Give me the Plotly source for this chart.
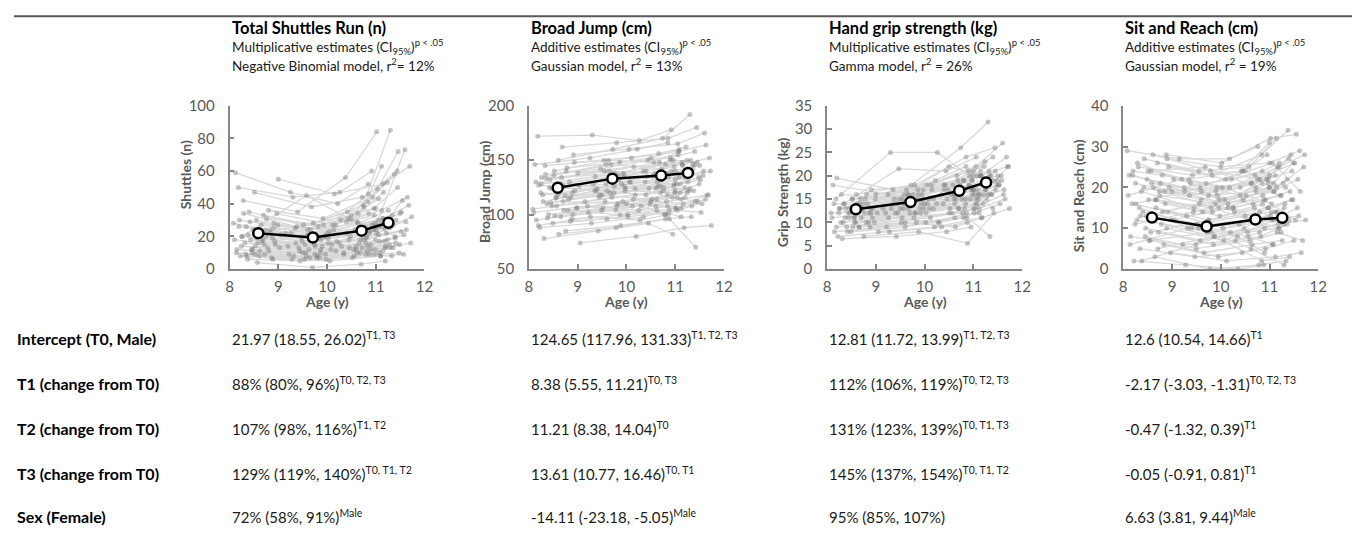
import plotly.graph_objects as go

W, H = 1361, 540
FONT = "Lato"

# ---------------- data ----------------
# age (years) of each child at T0, T1, T2, T3 (same children in every test)
ages = [
    [8.08, 9.15, 10.18, 10.76], [8.12, 9.25, 10.22, 10.85], [8.15, 9.22, 10.30, 10.80],
    [8.18, 9.30, 10.26, 10.92], [8.22, 9.28, 10.35, 10.88], [8.25, 9.36, 10.40, 10.98],
    [8.28, 9.40, 10.38, 11.02], [8.31, 9.42, 10.45, 10.95], [8.34, 9.47, 10.44, 11.06],
    [8.37, 9.45, 10.52, 11.10], [8.40, 9.52, 10.50, 11.04], [8.43, 9.55, 10.58, 11.14],
    [8.46, 9.58, 10.55, 11.18], [8.49, 9.60, 10.62, 11.12], [8.52, 9.63, 10.66, 11.22],
    [8.55, 9.66, 10.64, 11.26], [8.57, 9.70, 10.70, 11.20], [8.60, 9.72, 10.74, 11.30],
    [8.62, 9.75, 10.72, 11.28], [8.65, 9.78, 10.78, 11.34], [8.67, 9.76, 10.80, 11.32],
    [8.70, 9.82, 10.84, 11.38], [8.72, 9.85, 10.82, 11.36], [8.75, 9.88, 10.88, 11.42],
    [8.78, 9.86, 10.90, 11.40], [8.80, 9.92, 10.94, 11.46], [8.83, 9.95, 10.92, 11.50],
    [8.86, 9.98, 10.98, 11.48], [8.88, 10.02, 11.02, 11.55], [8.91, 10.05, 11.05, 11.60],
    [8.94, 10.08, 11.08, 11.58], [8.97, 10.12, 11.12, 11.65], [9.00, 10.15, 11.15, 11.70],
    [9.05, 10.20, 11.18, 11.74], [8.20, 9.35, 10.42, 11.00], [8.45, 9.50, 10.60, 11.24],
    [8.68, 9.80, 10.85, 11.44], [8.90, 10.00, 11.00, 11.62], [8.35, 9.65, 10.68, 11.15],
    [8.58, 9.90, 10.76, 11.52],
    [8.10, 9.20, 10.25, 10.82], [8.14, 9.32, 10.34, 10.90], [8.19, 9.26, 10.28, 10.86],
    [8.24, 9.44, 10.46, 11.00], [8.29, 9.38, 10.40, 10.97], [8.33, 9.54, 10.56, 11.08],
    [8.38, 9.49, 10.48, 11.12], [8.42, 9.60, 10.63, 11.16], [8.47, 9.56, 10.60, 11.20],
    [8.51, 9.68, 10.72, 11.24], [8.56, 9.74, 10.69, 11.28], [8.61, 9.79, 10.80, 11.33],
    [8.66, 9.83, 10.86, 11.36], [8.71, 9.87, 10.84, 11.41], [8.76, 9.93, 10.96, 11.45],
    [8.81, 9.97, 10.99, 11.49], [8.85, 10.03, 11.04, 11.53], [8.89, 10.06, 11.10, 11.57],
    [8.93, 10.10, 11.06, 11.63], [8.99, 10.14, 11.16, 11.68], [9.03, 10.18, 11.20, 11.72],
    [8.26, 9.58, 10.50, 11.08], [8.53, 9.80, 10.62, 11.30], [8.74, 9.96, 11.00, 11.40],
]

shuttles = [
    [28, 22, 27, 38], [59, 47, 40, 52], [12, 9, 14, 16], [50, 44, 47, 60], [8, 6, 10, 9],
    [20, 16, 22, 28], [42, 35, 56, 84], [16, 13, 18, 24], [26, 19, 31, 43], [6, 5, 7, 8],
    [35, 27, 33, 49], [18, 15, 24, 31], [10, 8, 12, 17], [24, 21, 29, 63], [14, 12, 16, 22],
    [30, 24, 28, 36], [4, 1, 3, 5], [22, 28, 39, 85], [11, 9, 13, 15], [27, 21, 26, 33],
    [17, 14, 19, 26], [33, 26, 41, 58], [9, 7, 11, 13], [20, 18, 23, 30], [13, 10, 15, 19],
    [36, 31, 44, 72], [24, 20, 27, 34], [7, 6, 9, 10], [19, 16, 22, 42], [28, 23, 30, 73],
    [15, 12, 17, 21], [34, 27, 36, 44], [55, 46, 52, 63], [21, 17, 25, 32], [30, 25, 35, 37],
    [12, 10, 14, 18], [18, 20, 46, 60], [25, 22, 24, 29], [8, 7, 10, 11], [16, 14, 18, 23],
    [18, 14, 16, 20], [10, 8, 9, 12], [26, 22, 30, 34], [14, 11, 13, 18], [34, 26, 29, 33],
    [9, 6, 8, 10], [21, 17, 20, 28], [29, 24, 34, 47], [12, 10, 12, 14], [47, 38, 44, 53],
    [19, 15, 18, 25], [8, 7, 9, 8], [23, 19, 22, 27], [15, 12, 14, 16], [31, 27, 37, 50],
    [11, 9, 12, 15], [22, 19, 27, 35], [6, 5, 8, 9], [17, 15, 21, 24], [27, 24, 31, 39],
    [13, 11, 13, 16], [20, 45, 30, 26], [9, 8, 10, 13], [24, 20, 26, 20],
]

broad_jump = [
    [105, 112, 118, 122], [146, 152, 160, 166], [95, 102, 108, 100], [172, 173, 168, 178],
    [88, 92, 98, 104], [128, 135, 140, 144], [118, 124, 130, 128], [78, 85, 92, 82],
    [137, 142, 150, 155], [110, 118, 114, 120], [100, 106, 112, 116], [132, 140, 138, 148],
    [124, 128, 135, 138], [92, 96, 104, 98], [140, 150, 156, 162], [115, 120, 126, 130],
    [108, 116, 120, 125], [150, 160, 170, 192], [120, 126, 132, 136], [98, 104, 100, 108],
    [134, 138, 146, 150], [112, 110, 118, 122], [126, 132, 138, 142], [85, 90, 96, 70],
    [143, 148, 152, 158], [104, 112, 116, 112], [130, 136, 140, 145], [116, 124, 128, 134],
    [96, 100, 106, 110], [155, 160, 165, 175], [122, 130, 134, 140], [106, 108, 114, 118],
    [138, 144, 146, 152], [74, 80, 88, 90], [127, 122, 135, 140], [111, 118, 124, 120],
    [162, 166, 170, 180], [100, 110, 106, 114], [133, 140, 148, 145], [118, 128, 125, 132],
    [102, 108, 104, 112], [130, 128, 140, 150], [90, 98, 95, 100], [120, 116, 124, 132],
    [112, 122, 118, 126], [145, 150, 148, 158], [97, 104, 110, 106], [125, 122, 130, 137],
    [108, 112, 108, 116], [136, 146, 142, 150], [116, 120, 126, 122], [82, 88, 96, 98],
    [128, 136, 134, 146], [104, 100, 108, 112], [140, 138, 150, 148], [114, 122, 120, 128],
    [94, 98, 104, 102], [120, 130, 128, 136], [148, 152, 158, 164], [106, 114, 110, 118],
    [126, 124, 134, 140], [134, 146, 152, 160], [99, 108, 114, 124], [117, 126, 122, 146],
]

grip = [
    [12, 13, 15, 17], [18, 16, 19, 22], [8, 9, 10, 11], [15, 25, 25, 20], [7, 8, 9, 10],
    [13, 14, 17, 19], [10, 12, 14, 16], [6.5, 7, 8, 9], [14, 21.5, 21, 24], [11, 12, 13, 15],
    [9, 10, 12, 13], [12, 15, 18, 20], [13, 14, 16, 18], [8, 9, 11, 12], [15, 17, 20, 22],
    [11, 13, 15, 17], [10, 12, 13, 14], [16, 18, 26, 31.5], [12, 14, 16, 19], [9, 11, 12, 7],
    [14, 16, 19, 21], [11, 12, 14, 16], [13, 15, 17, 20], [7, 8, 5.5, 12], [15, 17, 21, 24],
    [10, 12, 15, 17], [14, 16, 18, 20], [12, 13, 16, 18], [9, 10, 12, 14], [17, 18, 22, 27],
    [13, 15, 17, 19], [10, 11, 13, 15], [16, 17, 20, 22], [8, 9, 11, 13], [19.5, 17, 18, 21],
    [11, 13, 16, 17], [15, 18, 24, 26], [12, 14, 13, 16], [14, 16, 19, 21], [10, 13, 15, 18],
    [11, 12, 14, 13], [14, 13, 16, 18], [9, 11, 10, 12], [12, 14, 15, 17], [16, 15, 18, 19],
    [10, 11, 12, 14], [13, 15, 17, 16], [8, 10, 9, 11], [12, 13, 15, 19], [15, 16, 18, 23],
    [11, 14, 13, 15], [14, 15, 19, 20], [9, 10, 11, 16], [13, 16, 15, 19], [12, 14, 17, 21],
    [16, 17, 20, 19], [10, 12, 14, 18], [13, 14, 16, 20], [11, 13, 15, 17], [15, 18, 20, 24],
    [12, 13, 16, 22], [13, 16, 22, 20], [9, 12, 14, 16], [14, 15, 17, 13],
]

sit_reach = [
    [29, 27, 27, 30], [23, 20, 22, 24], [8, 6, 7, 9], [16, 13, 15, 17], [2, 1, 0, 1],
    [21, 18, 20, 22], [12, 10, 11, 13], [25, 23, 24, 28], [5, 3, 4, 6], [19, 15, 18, 19],
    [14, 11, 13, 14], [27, 24, 25, 32], [10, 7, 9, 10], [22, 19, 21, 23], [17, 14, 16, 18],
    [7, 4, 6, 7], [24, 21, 23, 26], [13, 9, 12, 15], [20, 18, 19, 21], [3, 0, 1, 2],
    [15, 12, 14, 16], [26, 23, 28, 34], [9, 6, 8, 11], [18, 16, 17, 19], [11, 8, 10, 12],
    [23, 20, 22, 24], [6, 3, 5, 7], [16, 13, 15, 17], [28, 26, 32, 33], [14, 10, 12, 13],
    [20, 17, 19, 22], [4, 2, 3, 4], [19, 16, 20, 25], [12, 9, 11, 12], [24, 22, 24, 31],
    [8, 5, 7, 9], [17, 15, 21, 28], [27, 25, 26, 29], [13, 11, 12, 14], [21, 19, 22, 26],
    [18, 22, 15, 12], [6, 10, 8, 4], [23, 19, 14, 16], [11, 14, 17, 20], [26, 21, 18, 21],
    [15, 10, 8, 6], [2, 6, 10, 14], [20, 17, 21, 25], [13, 16, 12, 10], [24, 25, 20, 18],
    [9, 12, 15, 11], [28, 24, 22, 20], [17, 14, 18, 22], [5, 8, 2, 3], [21, 18, 15, 17],
    [14, 17, 20, 26], [19, 20, 16, 12], [10, 7, 12, 15], [25, 22, 26, 19], [12, 15, 9, 7],
    [22, 20, 25, 28], [16, 20, 24, 21], [7, 9, 5, 1], [19, 15, 23, 27],
]

mean_age = [8.59, 9.71, 10.71, 11.26]
mean_shuttles = [21.97, 19.33, 23.51, 28.34]
mean_broad_jump = [124.65, 133.03, 135.86, 138.26]
mean_grip = [12.81, 14.35, 16.78, 18.57]
mean_sit_reach = [12.6, 10.43, 12.13, 12.55]

titles = ["Total Shuttles Run (n)", "Broad Jump (cm)", "Hand grip strength (kg)", "Sit and Reach (cm)"]
estimate_type = ["Multiplicative", "Additive", "Multiplicative", "Additive"]
model_lines = ["Negative Binomial model, r<sup>2</sup>= 12%", "Gaussian model, r<sup>2</sup> = 13%",
               "Gamma model, r<sup>2</sup> = 26%", "Gaussian model, r<sup>2</sup> = 19%"]
y_titles = ["Shuttles (n)", "Broad Jump (cm)", "Grip Strength (kg)", "Sit and Reach (cm)"]
y_ranges = [[0, 100], [50, 200], [0, 35], [0, 40]]
y_dticks = [20, 50, 5, 10]
x_ticks = [8, 9, 10, 11, 12]

row_labels = ["Intercept (T0, Male)", "T1 (change from T0)", "T2 (change from T0)",
              "T3 (change from T0)", "Sex (Female)"]
cells = [
    ["21.97 (18.55, 26.02)<sup>T1, T3</sup>", "88% (80%, 96%)<sup>T0, T2, T3</sup>",
     "107% (98%, 116%)<sup>T1, T2</sup>", "129% (119%, 140%)<sup>T0, T1, T2</sup>",
     "72% (58%, 91%)<sup>Male</sup>"],
    ["124.65 (117.96, 131.33)<sup>T1, T2, T3</sup>", "8.38 (5.55, 11.21)<sup>T0, T3</sup>",
     "11.21 (8.38, 14.04)<sup>T0</sup>", "13.61 (10.77, 16.46)<sup>T0, T1</sup>",
     "-14.11 (-23.18, -5.05)<sup>Male</sup>"],
    ["12.81 (11.72, 13.99)<sup>T1, T2, T3</sup>", "112% (106%, 119%)<sup>T0, T2, T3</sup>",
     "131% (123%, 139%)<sup>T0, T1, T3</sup>", "145% (137%, 154%)<sup>T0, T1, T2</sup>",
     "95% (85%, 107%)"],
    ["12.6 (10.54, 14.66)<sup>T1</sup>", "-2.17 (-3.03, -1.31)<sup>T0, T2, T3</sup>",
     "-0.47 (-1.32, 0.39)<sup>T1</sup>", "-0.05 (-0.91, 0.81)<sup>T1</sup>",
     "6.63 (3.81, 9.44)<sup>Male</sup>"],
]

individual = [shuttles, broad_jump, grip, sit_reach]
means = [mean_shuttles, mean_broad_jump, mean_grip, mean_sit_reach]

# ---------------- layout geometry (pixels) ----------------
panel_x = [(227.7, 424.5), (530, 727), (831, 1028), (1130, 1327)]
plot_top, plot_bottom = 99, 268
row_y = [339.5, 386, 433, 479.5, 524]
ytitle_y = [170, 188, 188, 192]


def px(x):
    return x / W


def py(y):
    return 1 - y / H


fig = go.Figure()
annotations = []
axis_color = "#868686"
tick_color = "#595959"

for i in range(4):
    n = i + 1
    xa = "x" if n == 1 else f"x{n}"
    ya = "y" if n == 1 else f"y{n}"
    xs, ys = [], []
    for a, v in zip(ages, individual[i]):
        xs += a + [None]
        ys += v + [None]
    fig.add_trace(go.Scatter(
        x=xs, y=ys, mode="lines+markers", xaxis=xa, yaxis=ya,
        line=dict(color="#d9d9d9", width=1.3),
        marker=dict(color="rgba(120,120,120,0.42)", size=5),
        connectgaps=False, hoverinfo="skip", showlegend=False))
    fig.add_trace(go.Scatter(
        x=mean_age, y=means[i], mode="lines+markers", xaxis=xa, yaxis=ya,
        line=dict(color="black", width=2.5),
        marker=dict(color="white", size=10, line=dict(color="black", width=2.5)),
        showlegend=False))

    x0, x1 = panel_x[i]
    common = dict(showline=True, linecolor=axis_color, linewidth=1.5, showgrid=False,
                  zeroline=False, ticks="inside", ticklen=5, tickcolor=axis_color,
                  tickwidth=1.5, tickfont=dict(family=FONT, size=15, color=tick_color))
    fig.update_layout(**{
        ("xaxis" if n == 1 else f"xaxis{n}"): dict(
            domain=[px(x0), px(x1)], anchor=ya, range=[8, 12], tickvals=x_ticks,
            ticklabelstandoff=3, **common),
        ("yaxis" if n == 1 else f"yaxis{n}"): dict(
            domain=[py(plot_bottom), py(plot_top)], anchor=xa, range=y_ranges[i],
            dtick=y_dticks[i], ticklabelstandoff=10, **common),
    })

    # header texts
    annotations.append(dict(x=px(x0), y=py(19), xref="paper", yref="paper", xanchor="left",
                            yanchor="middle", showarrow=False, text=f"<b>{titles[i]}</b>",
                            font=dict(family=FONT, size=16.5, color="black")))
    annotations.append(dict(x=px(x0), y=py(38), xref="paper", yref="paper", xanchor="left",
                            yanchor="middle", showarrow=False,
                            text=f"{estimate_type[i]} estimates (CI<sub>95%</sub>)<sup>p &lt; .05</sup>",
                            font=dict(family=FONT, size=13.5, color="#1a1a1a")))
    annotations.append(dict(x=px(x0), y=py(57), xref="paper", yref="paper", xanchor="left",
                            yanchor="middle", showarrow=False, text=model_lines[i],
                            font=dict(family=FONT, size=13.5, color="#1a1a1a")))
    # axis titles
    annotations.append(dict(x=px((x0 + x1) / 2), y=py(302), xref="paper", yref="paper",
                            xanchor="center", yanchor="middle", showarrow=False,
                            text="<b>Age (y)</b>", font=dict(family=FONT, size=14, color=tick_color)))
    annotations.append(dict(x=px(x0 - 45), y=py(ytitle_y[i]), xref="paper", yref="paper",
                            xanchor="center", yanchor="middle", showarrow=False, textangle=-90,
                            text=f"<b>{y_titles[i]}</b>", font=dict(family=FONT, size=14, color=tick_color)))
    # table cells
    for r in range(5):
        annotations.append(dict(x=px(x0), y=py(row_y[r]), xref="paper", yref="paper",
                                xanchor="left", yanchor="middle", showarrow=False,
                                text=cells[i][r], font=dict(family=FONT, size=15, color="#1a1a1a")))

for r in range(5):
    annotations.append(dict(x=px(11), y=py(row_y[r]), xref="paper", yref="paper",
                            xanchor="left", yanchor="middle", showarrow=False,
                            text=f"<b>{row_labels[r]}</b>", font=dict(family=FONT, size=16, color="black")))

fig.update_layout(
    width=W, height=H, margin=dict(l=0, r=0, t=0, b=0),
    paper_bgcolor="white", plot_bgcolor="white",
    annotations=annotations,
    shapes=[dict(type="line", xref="paper", yref="paper", x0=px(10), x1=1, y0=py(6.5), y1=py(6.5),
                 line=dict(color="#5a5a5a", width=2))],
)

fig.write_html("out.html", config={"displayModeBar": False},
               post_script="document.body.style.margin='0px';document.body.style.overflow='hidden';")
